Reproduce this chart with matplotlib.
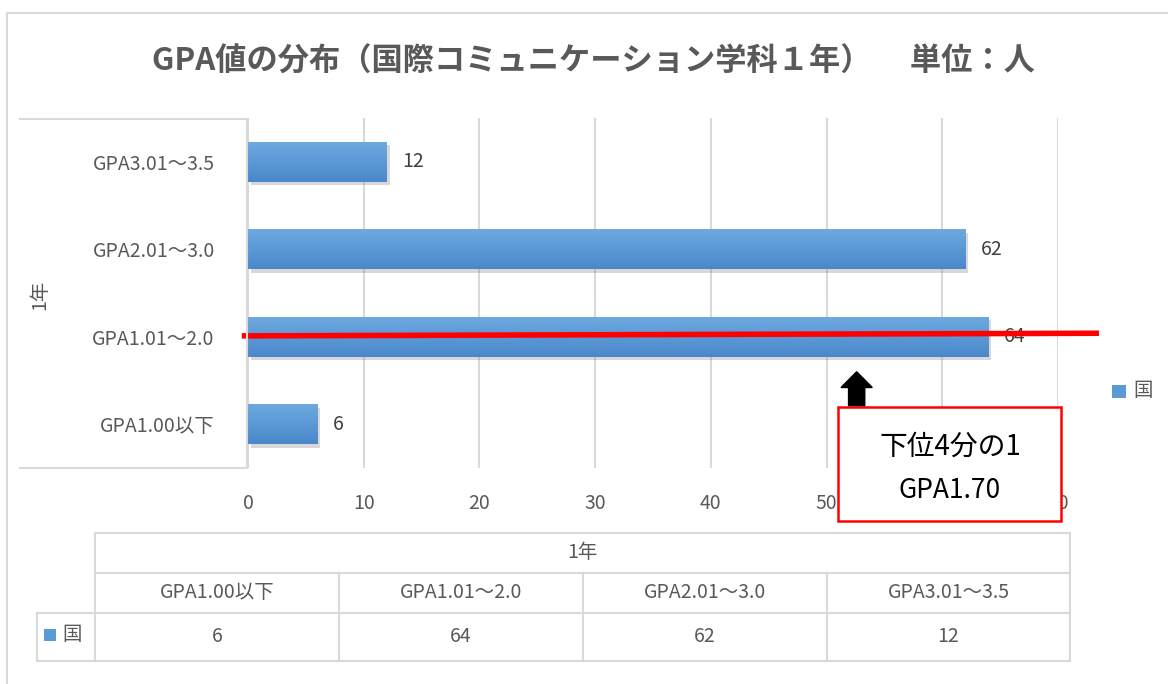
import matplotlib
matplotlib.use("Agg")
import matplotlib.pyplot as plt
import numpy as np
from matplotlib.patches import Rectangle, FancyArrow
import matplotlib.patheffects as pe
from matplotlib.lines import Line2D
from matplotlib.colors import LinearSegmentedColormap

plt.rcParams['font.family'] = ['Noto Sans CJK JP', 'DejaVu Sans']

# ---- data ----
categories = ["GPA1.00以下", "GPA1.01～2.0", "GPA2.01～3.0", "GPA3.01～3.5"]
values = [6, 64, 62, 12]
series_name = "国"
group_label = "1年"
x_ticks = [0, 10, 20, 30, 40, 50, 60, 70]
title = "GPA値の分布（国際コミュニケーション学科１年）　 単位：人"
note_lines = ["下位4分の1", "GPA1.70"]

W, H = 1168, 684
fig = plt.figure(figsize=(W / 100, H / 100), dpi=100)
fig.patch.set_facecolor("white")

def fx(x):
    return x / W

def fy(y):
    return 1 - y / H

TXT = "#595959"
GRID = "#D9D9D9"
FS = 14

# outer border
fig.add_artist(Line2D([fx(7), fx(7)], [fy(13), fy(684)], color=GRID, lw=1.5))
fig.add_artist(Line2D([fx(7), fx(1168)], [fy(13), fy(13)], color=GRID, lw=1.5))

# title
fig.text(fx(593), fy(62), title, ha="center", va="center", fontsize=22.5,
         fontweight="bold", color=TXT)

# main axes
L, R, T, B = 248, 1058, 118, 468
ax = fig.add_axes([fx(L), fy(B), fx(R - L), (B - T) / H])
ypos = np.arange(len(categories))
bars = ax.barh(ypos, values, height=0.46, color="#5B9BD5", zorder=3,
               path_effects=[pe.SimplePatchShadow(offset=(2, -2.5), shadow_rgbFace="#808080", alpha=0.3),
                             pe.Normal()])
grad = np.linspace(0, 1, 64).reshape(-1, 1)
cmap = LinearSegmentedColormap.from_list("g", ["#6EA9E0", "#4A88CB"])
for b in bars:
    x0, y0, w, h = b.get_x(), b.get_y(), b.get_width(), b.get_height()
    im = ax.imshow(grad, extent=(x0, x0 + w, y0, y0 + h), cmap=cmap, aspect="auto", zorder=4)
    im.set_clip_path(b)
ax.set_xlim(0, 70)
ax.set_ylim(-0.5, len(categories) - 0.5)
ax.set_aspect("auto")
ax.set_xticks(x_ticks)
ax.set_yticks(ypos)
ax.set_yticklabels(categories)
ax.tick_params(axis="x", length=0, pad=18, labelsize=FS, labelcolor=TXT)
ax.tick_params(axis="y", length=0, pad=24, labelsize=FS, labelcolor=TXT)
for s in ax.spines.values():
    s.set_visible(False)
ax.grid(axis="x", color=GRID, lw=1.5, zorder=0)
ax.set_axisbelow(True)
for yv, v in zip(ypos, values):
    ax.text(v + 1.3, yv, str(v), va="center", ha="left", fontsize=FS, color="#404040", zorder=5)

# category-axis box
fig.add_artist(Line2D([fx(20), fx(247), fx(247), fx(20)], [fy(119), fy(119), fy(468), fy(468)],
                      color=GRID, lw=1.5))
fig.text(fx(40), fy(295), group_label, rotation=90, ha="center", va="center",
         fontsize=FS, color=TXT)

# red line (annotation)
ax.add_line(Line2D([-0.3, 73.3], [1.01, 1.04], color="#FF0000", lw=4, zorder=6, clip_on=False))

# arrow
ax.add_patch(FancyArrow(52.6, 0.21, 0, 0.39, width=1.4, head_width=2.7, head_length=0.18,
                        length_includes_head=True, color="black", zorder=6, clip_on=False))

# note box
fig.add_artist(Rectangle((fx(838), fy(521)), fx(1061 - 838), (521 - 407) / H,
                         facecolor="white", edgecolor="#FF0000", lw=1.8, zorder=10))
fig.text(fx(950), fy(447), note_lines[0], ha="center", va="center", fontsize=20,
         color="black", zorder=11)
fig.text(fx(950), fy(491), note_lines[1], ha="center", va="center", fontsize=19,
         color="black", zorder=11)

# legend
fig.add_artist(Rectangle((fx(1112), fy(398)), fx(14), 13 / H, facecolor="#5B9BD5", edgecolor="none"))
fig.text(fx(1133), fy(390), series_name, ha="left", va="center", fontsize=FS, color=TXT)

# data table
col_edges = [95, 339, 583, 827, 1070]
rows = [533, 573, 613, 661]
lw_t = 1.5
fig.add_artist(Line2D([fx(95), fx(1070)], [fy(rows[0])] * 2, color=GRID, lw=lw_t))
fig.add_artist(Line2D([fx(95), fx(1070)], [fy(rows[1])] * 2, color=GRID, lw=lw_t))
fig.add_artist(Line2D([fx(37), fx(1070)], [fy(rows[2])] * 2, color=GRID, lw=lw_t))
fig.add_artist(Line2D([fx(37), fx(1070)], [fy(rows[3])] * 2, color=GRID, lw=lw_t))
fig.add_artist(Line2D([fx(95)] * 2, [fy(rows[0]), fy(rows[3])], color=GRID, lw=lw_t))
fig.add_artist(Line2D([fx(1070)] * 2, [fy(rows[0]), fy(rows[3])], color=GRID, lw=lw_t))
fig.add_artist(Line2D([fx(37)] * 2, [fy(rows[2]), fy(rows[3])], color=GRID, lw=lw_t))
for cx in col_edges[1:-1]:
    fig.add_artist(Line2D([fx(cx)] * 2, [fy(rows[1]), fy(rows[3])], color=GRID, lw=lw_t))
fig.text(fx((95 + 1070) / 2), fy((rows[0] + rows[1]) / 2), group_label, ha="center", va="center",
         fontsize=FS, color=TXT)
for i, (c, v) in enumerate(zip(categories, values)):
    cx = (col_edges[i] + col_edges[i + 1]) / 2
    fig.text(fx(cx), fy((rows[1] + rows[2]) / 2), c, ha="center", va="center", fontsize=FS, color=TXT)
    fig.text(fx(cx), fy((rows[2] + rows[3]) / 2), str(v), ha="center", va="center", fontsize=FS, color=TXT)
fig.add_artist(Rectangle((fx(44), fy(641)), fx(12), 12 / H, facecolor="#5B9BD5", edgecolor="none"))
fig.text(fx(62), fy(635), series_name, ha="left", va="center", fontsize=FS, color=TXT)

fig.savefig("out.png", dpi=100)
